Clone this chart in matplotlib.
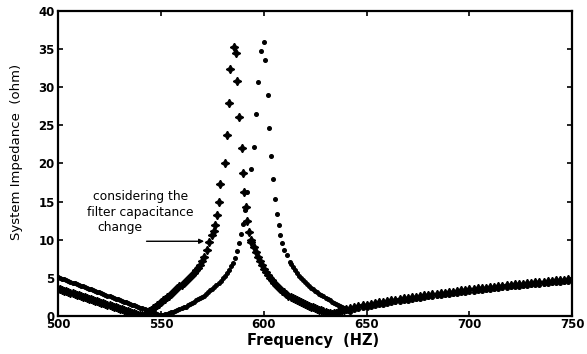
import numpy as np
import matplotlib
matplotlib.use("Agg")
import matplotlib.pyplot as plt

plt.rcParams['font.family'] = ['DejaVu Sans']

# ---- data ----
# original filter (dots)
dot_f_low = np.arange(500, 593)
dot_z_low = [5.1, 5.0, 4.9, 4.8, 4.7, 4.6, 4.5, 4.4, 4.3, 4.2,
             4.1, 4.0, 3.9, 3.8, 3.7, 3.6, 3.5, 3.4, 3.3, 3.2,
             3.1, 3.0, 2.9, 2.8, 2.7, 2.6, 2.5, 2.4, 2.3, 2.2,
             2.1, 2.0, 1.9, 1.8, 1.7, 1.6, 1.5, 1.4, 1.3, 1.2,
             1.1, 1.0, 0.9, 0.8, 0.7, 0.6, 0.5, 0.4, 0.3, 0.2,
             0.15, 0.2, 0.25, 0.3, 0.4, 0.5, 0.6, 0.7, 0.85, 0.95,
             1.05, 1.15, 1.25, 1.4, 1.55, 1.7, 1.9, 2.05, 2.2, 2.35,
             2.5, 2.7, 2.9, 3.15, 3.4, 3.6, 3.8, 4.05, 4.3, 4.65,
             5.0, 5.3, 5.6, 6.0, 6.5, 7.0, 7.6, 8.5, 9.6, 10.8,
             12.1, 13.9, 16.2]
dot_f_peak = [593.7, 595.0, 596.3, 597.4, 598.6, 599.9, 600.7, 601.8, 602.6, 603.4,
              604.4, 605.5, 606.2, 607.2, 608.0, 608.8, 609.9, 611.2, 612.5]
dot_z_peak = [19.2, 22.2, 26.4, 30.7, 34.7, 35.9, 33.5, 29.0, 24.6, 20.9,
              17.9, 15.4, 13.4, 11.9, 10.6, 9.6, 8.7, 8.0, 7.1]
dot_f_high = np.arange(613, 643)
dot_z_high = [6.8, 6.4, 6.0, 5.65, 5.3, 5.0, 4.7, 4.45, 4.2, 3.95,
              3.7, 3.5, 3.3, 3.1, 2.9, 2.75, 2.6, 2.4, 2.25, 2.05,
              1.9, 1.75, 1.6, 1.45, 1.3, 1.15, 1.0, 0.85, 0.7, 0.6]
dot_f_tail = np.arange(644, 751, 2)
dot_z_tail = [0.8, 0.9, 1.0, 1.1, 1.2, 1.3, 1.4, 1.5, 1.6, 1.7,
              1.8, 1.88, 1.96, 2.04, 2.12, 2.2, 2.28, 2.36, 2.44, 2.52,
              2.59, 2.66, 2.73, 2.8, 2.87, 2.94, 3.01, 3.08, 3.15, 3.21,
              3.27, 3.33, 3.39, 3.45, 3.51, 3.57, 3.63, 3.69, 3.75, 3.8,
              3.86, 3.91, 3.96, 4.02, 4.07, 4.12, 4.18, 4.23, 4.28, 4.34,
              4.39, 4.44, 4.5, 4.55]

# with the filter capacitance change (stars)
star_f_low = np.arange(500, 572)
star_z_low = [3.6, 3.5, 3.43, 3.34, 3.25, 3.16, 3.08, 2.99, 2.9, 2.81,
              2.73, 2.64, 2.55, 2.46, 2.38, 2.29, 2.2, 2.11, 2.03, 1.94,
              1.85, 1.76, 1.68, 1.59, 1.5, 1.41, 1.33, 1.24, 1.15, 1.06,
              0.98, 0.89, 0.8, 0.71, 0.63, 0.54, 0.45, 0.36, 0.28, 0.2,
              0.12, 0.1, 0.25, 0.45, 0.65, 0.85, 1.05, 1.25, 1.45, 1.65,
              1.85, 2.05, 2.3, 2.5, 2.7, 2.95, 3.15, 3.4, 3.65, 3.9,
              4.1, 4.35, 4.6, 4.85, 5.1, 5.4, 5.7, 6.0, 6.35, 6.75,
              7.2, 7.8]
star_f_peak = [572.3, 573.6, 574.7, 575.6, 576.4, 577.2, 578.0, 578.8, 580.9, 582.0,
               583.0, 583.7, 585.3, 586.6, 587.2, 587.9, 589.2, 589.8, 590.5, 591.3,
               591.9, 592.7, 593.6]
star_z_peak = [8.6, 9.7, 10.6, 11.2, 11.9, 13.3, 15.0, 17.3, 20.1, 23.7,
               27.9, 32.4, 35.2, 34.4, 30.8, 26.1, 22.0, 18.7, 16.3, 14.3,
               12.5, 11.0, 10.0]
star_f_high = np.arange(594, 641)
star_z_high = [9.7, 9.0, 8.4, 7.8, 7.2, 6.7, 6.2, 5.8, 5.4, 5.0,
               4.7, 4.4, 4.1, 3.85, 3.6, 3.35, 3.1, 2.9, 2.7, 2.55,
               2.4, 2.25, 2.1, 1.95, 1.8, 1.7, 1.55, 1.45, 1.35, 1.25,
               1.15, 1.05, 0.95, 0.85, 0.75, 0.65, 0.55, 0.45, 0.35, 0.3,
               0.35, 0.45, 0.55, 0.65, 0.75, 0.85, 0.95]
star_f_tail = np.arange(642, 751, 2)
star_z_tail = [1.07, 1.18, 1.29, 1.4, 1.5, 1.6, 1.7, 1.8, 1.9, 2.0,
               2.08, 2.16, 2.24, 2.32, 2.4, 2.48, 2.56, 2.64, 2.72, 2.8,
               2.87, 2.94, 3.01, 3.08, 3.15, 3.22, 3.29, 3.36, 3.43, 3.5,
               3.56, 3.62, 3.68, 3.74, 3.8, 3.86, 3.92, 3.98, 4.04, 4.1,
               4.15, 4.21, 4.26, 4.31, 4.37, 4.42, 4.47, 4.53, 4.58, 4.63,
               4.69, 4.74, 4.79, 4.85, 4.9]

xticks = [500, 550, 600, 650, 700, 750]
yticks = [0, 5, 10, 15, 20, 25, 30, 35, 40]

dot_f = np.concatenate([dot_f_low, dot_f_peak, dot_f_high, dot_f_tail])
dot_z = np.concatenate([dot_z_low, dot_z_peak, dot_z_high, dot_z_tail])
star_f = np.concatenate([star_f_low, star_f_peak, star_f_high, star_f_tail])
star_z = np.concatenate([star_z_low, star_z_peak, star_z_high, star_z_tail])

fig = plt.figure(figsize=(5.87, 3.54), dpi=100)
ax = fig.add_axes([0.099, 0.107, 0.876, 0.863])

ax.plot(dot_f, dot_z, linestyle='none', marker='o', markersize=2.6, color='black')
ax.plot(star_f, star_z, linestyle='none', marker=(4, 1, 0), markersize=6, color='black')

ax.set_xlim(500, 750)
ax.set_ylim(0, 40)
ax.set_xticks(xticks)
ax.set_yticks(yticks)
ax.tick_params(direction='in', length=3.5, width=1.2, top=True, right=True,
               labelsize=8.5, pad=2.5)
ax.xaxis.set_tick_params(pad=1)
for lab in ax.get_xticklabels() + ax.get_yticklabels():
    lab.set_fontweight('bold')
for s in ax.spines.values():
    s.set_linewidth(1.6)

ax.set_xlabel('Frequency  (HZ)', fontsize=10.5, fontweight='bold')
ax.xaxis.set_label_coords(0.496, -0.054)
ax.set_ylabel('System Impedance  (ohm)', fontsize=9.5)
ax.yaxis.set_label_coords(-0.069, 0.536)

# annotation
ax.text(517, 15.6, 'considering the', fontsize=8.8, va='center', ha='left')
ax.text(514, 13.6, 'filter capacitance', fontsize=8.8, va='center', ha='left')
ax.text(519, 11.6, 'change', fontsize=8.8, va='center', ha='left')
ax.annotate('', xy=(571, 9.8), xytext=(543, 9.8),
            arrowprops=dict(arrowstyle='-|>', color='black', lw=1.0,
                            mutation_scale=7, shrinkA=0, shrinkB=0))

fig.savefig('out.png', dpi=100)
